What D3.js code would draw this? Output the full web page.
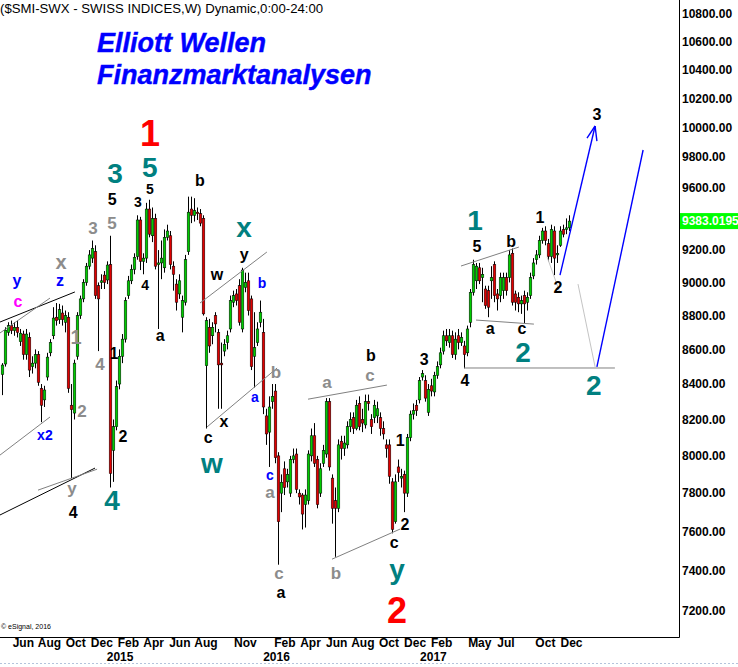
<!DOCTYPE html>
<html><head><meta charset="utf-8">
<script src="https://cdn.jsdelivr.net/npm/d3@7"></script>
<style>
body{margin:0;background:#fff}
svg{display:block;font-family:"Liberation Sans",Arial,sans-serif}
</style>
</head><body>
<svg id="c" width="738" height="667"></svg>
<script>
// ---------- DATA ----------
const firstWeek = "2014-05-12";
const open  = [8455,8515,8700,8740,8710,8730,8645,8690,8570,8670,8500,8520,8570,8375,8310,8440,8580,8680,8790,8775,8815,8760,8790,8280,8236,8560,8800,8900,9000,9100,9150,9190,8980,9000,9045,9015,9110,8030,8160,8400,8560,8660,8920,9010,9080,9160,9390,9130,9150,9460,9290,9400,9110,9120,9090,9280,9290,9100,8990,8930,8790,8880,9190,9460,9420,9440,9430,9400,8505,8730,8680,8800,8700,8520,8590,8640,8720,8880,8930,8980,8720,8970,9010,8900,8560,8640,8760,8700,8220,8130,8300,8360,8000,7800,7930,7860,7800,7980,8010,7800,7790,7740,7760,8000,8110,7980,7800,7960,8010,8300,7880,7760,7720,8080,8040,8060,8160,8210,8150,8290,8200,8170,8300,8200,8210,8220,8210,8150,8060,8060,7860,7650,7940,7880,7900,7800,8100,8230,8280,8310,8440,8420,8240,8390,8355,8450,8510,8590,8680,8640,8680,8570,8680,8640,8620,8580,8760,8940,9010,9090,9030,8960,8950,9010,9110,8930,8920,8950,9030,9030,9180,8930,8910,8870,8920,8880,8920,9040,9140,9170,9260,9320,9240,9160,9320,9170,9230,9330,9330,9340];
const high  = [8520,8730,8760,8770,8760,8770,8720,8710,8720,8700,8560,8600,8590,8400,8390,8580,8660,8850,8875,8870,8860,8830,8820,8400,8540,8820,8920,9020,9120,9200,9260,9230,9000,9050,9070,9130,9290,8200,8420,8600,8690,8910,9040,9110,9180,9420,9410,9180,9500,9520,9470,9430,9200,9260,9330,9360,9320,9130,9020,9050,8920,9170,9540,9540,9530,9470,9460,9420,8790,8780,8760,8820,8720,8640,8660,8710,8920,8950,8960,9020,9090,9060,9060,8920,8820,8760,8890,8780,8260,8330,8400,8400,8020,7900,7970,7930,8000,8040,8040,7820,7800,7820,8030,8150,8180,8000,7960,8060,8320,8320,7900,7830,8090,8110,8110,8190,8240,8240,8310,8330,8260,8340,8340,8230,8310,8300,8240,8190,8090,8090,7880,7900,7980,7930,7920,8120,8250,8290,8310,8440,8480,8450,8400,8430,8470,8530,8610,8710,8720,8720,8710,8700,8720,8700,8650,8740,8960,9140,9120,9120,9090,8980,8980,9100,9130,8960,9060,9060,9060,9200,9210,8950,8940,8920,8950,8940,9060,9150,9200,9290,9340,9350,9270,9360,9350,9230,9350,9360,9400,9420];
const low   = [8337,8500,8680,8690,8680,8670,8620,8540,8540,8440,8460,8490,8390,8185,8270,8420,8560,8660,8740,8750,8740,8700,8350,7880,8200,8540,8780,8880,8980,9080,9120,8900,8590,8960,8960,8990,7830,7860,8140,8370,8520,8640,8900,8990,9050,9140,9076,9050,9120,9280,9250,9080,8720,9020,9060,9260,9080,8950,8830,8900,8700,8860,9170,9370,9380,9390,9350,8800,8150,8580,8630,8700,8260,8260,8560,8600,8700,8850,8860,8740,8700,8940,8800,8480,8380,8620,8730,8230,8060,7940,8260,7960,7430,7700,7790,7830,7780,7960,7800,7740,7610,7620,7740,7970,7940,7720,7780,7940,7990,7920,7640,7470,7700,7980,8000,8040,8130,8120,8140,8140,8130,8150,8250,8120,8180,8180,8110,8090,7990,7850,7590,7640,7860,7830,7700,7780,8080,8200,8220,8290,8420,8300,8220,8330,8330,8430,8490,8570,8620,8610,8550,8540,8600,8620,8490,8560,8730,8920,8960,8990,8880,8840,8790,8900,8880,8830,8880,8900,8920,9000,8860,8830,8820,8810,8755,8830,8900,9020,9110,9150,9240,9230,9130,9120,9045,9120,9220,9280,9300,9320];
const close = [8509,8713,8740,8710,8730,8700,8695,8570,8690,8480,8520,8570,8410,8280,8366,8555,8640,8785,8770,8835,8775,8800,8375,8255,8520,8800,8900,9000,9100,9170,9210,8920,8900,9010,9000,9107,7905,8160,8385,8560,8660,8890,9010,9080,9155,9390,9130,9150,9460,9300,9400,9100,9120,9150,9280,9320,9110,9050,8880,9010,8890,9140,9440,9420,9450,9430,9370,8810,8770,8620,8730,8750,8510,8510,8630,8680,8890,8920,8890,8760,9076,9000,8830,8500,8610,8720,8820,8270,8120,8270,8330,7990,7650,7858,7830,7900,7980,8000,7820,7780,7690,7790,8010,8110,7960,7740,7930,8030,8300,7940,7720,7720,8060,8040,8070,8160,8200,8150,8280,8160,8180,8300,8290,8160,8280,8260,8150,8120,8040,7890,7610,7860,7910,7890,7800,8100,8230,8250,8250,8420,8460,8320,8370,8360,8450,8500,8580,8680,8650,8680,8570,8660,8640,8670,8570,8720,8940,9110,9100,9010,9050,8860,8850,9030,8920,8900,9030,9030,8950,9170,8880,8880,8870,8890,8870,8910,9030,9120,9170,9260,9320,9260,9160,9330,9150,9180,9320,9300,9340,9383];

const priceTicks = [7200,7400,7600,7800,8000,8200,8400,8600,8800,9000,9200,9600,9800,10000,10200,10400,10600,10800];
const monthTicks  = ["2014-06-01","2014-08-01","2014-10-01","2014-12-01","2015-02-01","2015-04-01","2015-06-01","2015-08-01","2015-11-01","2016-02-01","2016-04-01","2016-06-01","2016-08-01","2016-10-01","2016-12-01","2017-02-01","2017-05-01","2017-07-01","2017-10-01","2017-12-01"];
const monthLabels = ["Jun","Aug","Oct","Dec","Feb","Apr","Jun","Aug","Nov","Feb","Apr","Jun","Aug","Oct","Dec","Feb","May","Jul","Oct","Dec"];
const yearTicks  = ["2015-01-01","2016-01-01","2017-01-01"];
const yearLabels = ["2015","2016","2017"];
const lastPrice = "9383.0195";
const lastValue = 9383.0195;
const titleText = "($SMI-SWX - SWISS INDICES,W) Dynamic,0:00-24:00";
const headline = ["Elliott Wellen","Finanzmarktanalysen"];

// wave labels: [text, week index, price, kind]
const waveLabels = [
 ["y",4.9,9009,"blu"],["c",5.2,8887,"mag"],["x",19.6,9125,"gryL"],["z",19.2,9009,"blu"],
 ["3",30.2,9339,"gry"],["5",36.6,9524,"blk"],["5",36.6,9370,"gry"],["3",37.6,9690,"teal"],
 ["1",24.6,8672,"gryL"],["4",32.6,8515,"gry"],["2",26.6,8246,"gry"],["x2",14.2,8113,"blus"],
 ["2",40.2,8108,"blk"],["1",37.2,8578,"blk"],["y",23.2,7827,"gry"],["4",23.6,7700,"blk"],
 ["4",36.6,7763,"teal"],
 ["1",49.2,9955,"red"],["5",49.2,9734,"teal"],["5",49.2,9589,"blks"],["3",45.2,9505,"blks"],
 ["4",47.6,8984,"blks"],["a",52.6,8684,"blk"],["b",65.9,9647,"blk"],["w",71.6,9051,"blk"],
 ["x",80.6,9340,"teal"],["y",80.6,9175,"blk"],["b",86.6,8996,"blus"],["b",91.2,8468,"gry"],
 ["a",84.2,8326,"blus"],["c",68.6,8102,"blk"],["x",73.9,8191,"blk"],["w",69.9,7956,"teal"],
 ["c",89.2,7895,"blus"],["a",89.2,7805,"gry"],["c",92.2,7387,"gry"],["a",92.9,7293,"blk"],
 ["a",108.2,8411,"gry"],["b",122.9,8565,"blk"],["c",122.6,8451,"gry"],["1",132.6,8086,"blk"],
 ["2",134.2,7637,"blk"],["c",130.6,7545,"blk"],["y",131.6,7405,"teal"],["2",131.6,7204,"red"],
 ["b",111.2,7387,"gry"],["3",140.6,8544,"blk"],["4",154.2,8422,"blk"],
 ["1",157.6,9385,"teal"],["5",158.2,9225,"blk"],["b",169.6,9256,"blk"],["a",162.6,8720,"blk"],
 ["c",173.2,8720,"blk"],["2",173.6,8580,"teal"],["1",179.2,9403,"blk"],["2",185.2,8972,"blk"],
 ["3",198.2,10084,"blk"],["2",197.2,8394,"teal"]
];
// trend / projection lines: [index1, price1, index2, price2, kind]
const waveLines = [
 [-0.8,8761,24.2,8942,"black"],[-0.8,8696,15.9,8905,"gray"],[-0.8,8004,15.9,8214,"gray"],
 [-0.8,7685,30.9,7934,"black"],[11.9,7816,31.6,7928,"gray"],[65.9,8875,88.2,9188,"gray"],
 [68.2,8158,91.6,8492,"gray"],[101.9,8314,128.2,8394,"gray"],[109.9,7458,132.6,7612,"gray"],
 [152.9,9101,172.2,9219,"gray"],[157.9,8773,177.2,8749,"gray"],[153.9,8492,204.2,8492,"gray"],
 [181.6,9157,185.9,8936,"light"],[191.9,8990,197.6,8498,"light"],
 [185.9,9045,197.6,10009,"blue"],[194.9,9927,197.6,10009,"blue"],[198.2,9907,197.6,10009,"blue"],
 [198.2,8498,213.6,9847,"blue"]
];

// ---------- CHART ----------
const W = 738, H = 667, axisX = 679, bottomY = 637;
const svg = d3.select("#c");
const n = open.length;
const dates = open.map((_, i) => d3.timeDay.offset(new Date(firstWeek + "T00:00:00"), 7 * i));
const x = d3.scaleLinear().domain([0, n - 1]).range([2.3, 569.3]);
const xTime = d3.scaleTime().domain([dates[0], dates[n - 1]]).range([2.3, 569.3]);
const y = d3.scaleLog().domain([7200, 10800]).range([611, 14]);

// frame
svg.append("line").attr("x1", axisX + 0.5).attr("x2", axisX + 0.5).attr("y1", 0).attr("y2", bottomY + 0.5)
  .attr("stroke", "#000");
svg.append("line").attr("x1", 0).attr("x2", axisX + 0.5).attr("y1", bottomY + 0.5).attr("y2", bottomY + 0.5)
  .attr("stroke", "#000");
svg.append("line").attr("x1", 0).attr("x2", W).attr("y1", 663.5).attr("y2", 663.5)
  .attr("stroke", "#b4c4dc").attr("stroke-dasharray", "2,2");

// title texts
svg.append("text").attr("x", 0).attr("y", 13).attr("font-size", 13.2).attr("fill", "#000").text(titleText);
svg.selectAll("text.hl").data(headline).join("text").attr("class", "hl")
  .attr("x", 97).attr("y", (d, i) => 52 + i * 32)
  .attr("font-size", 27).attr("font-weight", "bold").attr("font-style", "italic")
  .attr("fill", "#0000ff").attr("stroke", "#0000ff").attr("stroke-width", 0.4)
  .text(d => d);
svg.append("text").attr("x", 1).attr("y", 629).attr("font-size", 7).attr("fill", "#000").text("© eSignal, 2016");

// candles
const cg = svg.append("g");
d3.range(n).forEach(i => {
  const cx = Math.round(x(i));
  cg.append("line").attr("x1", cx + 0.5).attr("x2", cx + 0.5)
    .attr("y1", y(high[i])).attr("y2", y(low[i])).attr("stroke", "#000").attr("stroke-width", 1);
  const top = y(Math.max(open[i], close[i])), bot = y(Math.min(open[i], close[i]));
  cg.append("rect").attr("x", cx - 0.8).attr("width", 2.6)
    .attr("y", top).attr("height", Math.max(1, bot - top))
    .attr("fill", close[i] >= open[i] ? "#00cc00" : "#e00000")
    .attr("stroke", "#000").attr("stroke-width", 0.5);
});

// lines
const lineStyle = {
  black: ["#000", 1], gray: ["#808080", 1], light: ["#c4c4c4", 1], blue: ["#0000ff", 1.4]
};
svg.append("g").selectAll("line").data(waveLines).join("line")
  .attr("x1", d => x(d[0])).attr("y1", d => y(d[1]))
  .attr("x2", d => x(d[2])).attr("y2", d => y(d[3]))
  .attr("stroke", d => lineStyle[d[4]][0]).attr("stroke-width", d => lineStyle[d[4]][1]);

// wave labels
const labelStyle = {
  blk: ["#000", 16], blks: ["#000", 14], gry: ["#8c8c8c", 17], gryL: ["#8c8c8c", 20],
  blu: ["#0000ff", 16], blus: ["#0000ff", 14], mag: ["#ff00ff", 16],
  teal: ["#008080", 28], red: ["#ff0000", 36]
};
svg.append("g").selectAll("text").data(waveLabels).join("text")
  .attr("x", d => x(d[1])).attr("y", d => y(d[2]))
  .attr("text-anchor", "middle").attr("dominant-baseline", "central")
  .attr("font-weight", "bold")
  .attr("font-size", d => labelStyle[d[3]][1])
  .attr("fill", d => labelStyle[d[3]][0])
  .text(d => d[0]);

// right axis
const yAxis = d3.axisRight(y).tickValues(priceTicks).tickFormat(d3.format(".2f")).tickSize(0).tickPadding(3);
const ya = svg.append("g").attr("transform", `translate(${axisX},0)`).call(yAxis);
ya.select(".domain").remove();
ya.selectAll("text").attr("font-size", 12).attr("font-weight", "bold").attr("fill", "#000")
  .attr("font-family", '"Liberation Sans",Arial,sans-serif');

// last price tag
svg.append("rect").attr("x", axisX + 1).attr("y", y(lastValue) - 8).attr("width", W - axisX - 1).attr("height", 16)
  .attr("fill", "#00ff00");
svg.append("text").attr("x", axisX + 3).attr("y", y(lastValue)).attr("dominant-baseline", "central")
  .attr("font-size", 12).attr("font-weight", "bold").attr("fill", "#fff").text(lastPrice);

// bottom axis
const monthDates = monthTicks.map(d => new Date(d + "T00:00:00"));
const xAxis = d3.axisBottom(xTime).tickValues(monthDates).tickFormat((d, i) => monthLabels[i]).tickSize(0).tickPadding(1);
const xa = svg.append("g").attr("transform", `translate(12,${bottomY})`).call(xAxis);
xa.select(".domain").remove();
xa.selectAll("text").attr("font-size", 12).attr("font-weight", "bold").attr("fill", "#000")
  .attr("font-family", '"Liberation Sans",Arial,sans-serif');

const yearDates = yearTicks.map(d => new Date(d + "T00:00:00"));
const xy = d3.axisBottom(xTime).tickValues(yearDates).tickFormat((d, i) => yearLabels[i]).tickSize(0).tickPadding(15);
const xya = svg.append("g").attr("transform", `translate(17,${bottomY})`).call(xy);
xya.select(".domain").remove();
xya.selectAll("text").attr("font-size", 12).attr("font-weight", "bold").attr("fill", "#000")
  .attr("font-family", '"Liberation Sans",Arial,sans-serif');
</script>
</body></html>
